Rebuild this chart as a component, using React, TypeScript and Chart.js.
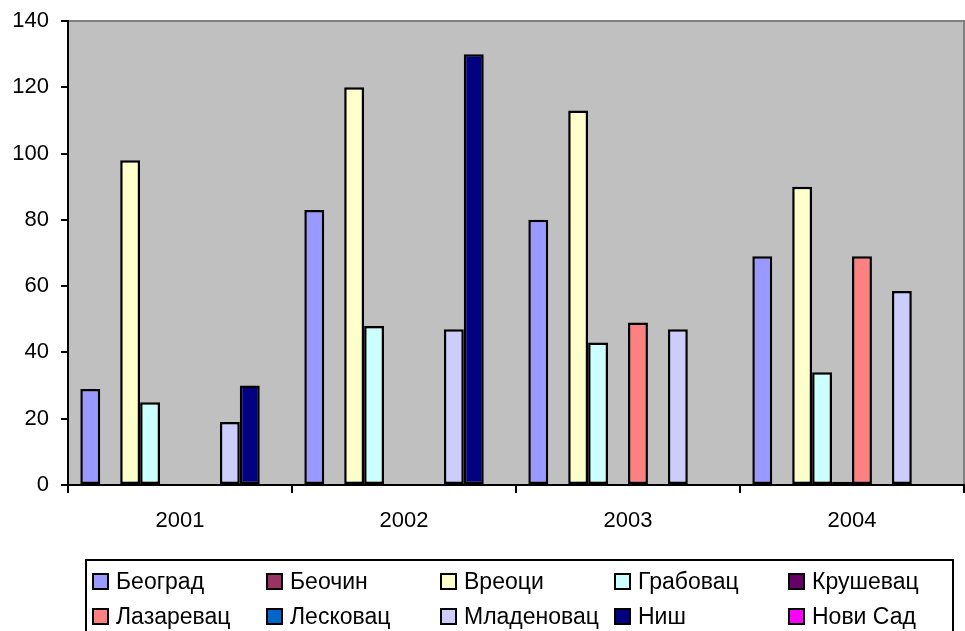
import React, { useEffect, useRef } from "react";
import { Chart, registerables } from "chart.js";

Chart.register(...registerables);

const categories = ["2001", "2002", "2003", "2004"];
const seriesNames = [
  "Београд",
  "Беочин",
  "Вреоци",
  "Грабовац",
  "Крушевац",
  "Лазаревац",
  "Лесковац",
  "Младеновац",
  "Ниш",
  "Нови Сад",
];
const seriesColors = [
  "#9999FF",
  "#993366",
  "#FFFFCC",
  "#CCFFFF",
  "#660066",
  "#FF8080",
  "#0066CC",
  "#CCCCFF",
  "#000080",
  "#FF00FF",
];
const beograd = [29, 83, 80, 69];
const beochin = [null, null, null, null];
const vreoci = [98, 120, 113, 90];
const grabovac = [25, 48, 43, 34];
const krusevac = [null, null, null, 1];
const lazarevac = [null, null, 49, 69];
const leskovac = [null, null, null, null];
const mladenovac = [19, 47, 47, 58.5];
const nis = [30, 130, null, null];
const noviSad = [null, null, null, null];
const seriesValues = [
  beograd,
  beochin,
  vreoci,
  grabovac,
  krusevac,
  lazarevac,
  leskovac,
  mladenovac,
  nis,
  noviSad,
];
const yTicks = { min: 0, max: 140, step: 20 };

const FONT = "'Liberation Sans', Arial, sans-serif";

const plotBg = {
  id: "plotBg",
  beforeDraw(chart: any) {
    const { ctx, chartArea } = chart;
    if (!chartArea) return;
    ctx.save();
    ctx.fillStyle = "#C0C0C0";
    ctx.fillRect(chartArea.left, chartArea.top, chartArea.right - chartArea.left, chartArea.bottom - chartArea.top);
    ctx.strokeStyle = "#808080";
    ctx.lineWidth = 2;
    ctx.beginPath();
    ctx.moveTo(chartArea.left, chartArea.top);
    ctx.lineTo(chartArea.right, chartArea.top);
    ctx.lineTo(chartArea.right, chartArea.bottom);
    ctx.stroke();
    ctx.restore();
  },
};

export default function App() {
  const canvasRef = useRef<HTMLCanvasElement | null>(null);

  useEffect(() => {
    if (!canvasRef.current) return;
    const chart = new Chart(canvasRef.current, {
      type: "bar",
      data: {
        labels: categories,
        datasets: seriesNames.map((name, i) => ({
          label: name,
          data: seriesValues[i] as any,
          backgroundColor: seriesColors[i],
          borderColor: "#000000",
          borderWidth: 2.5,
          borderSkipped: false,
          categoryPercentage: 0.89,
          barPercentage: 1,
        })),
      },
      options: {
        responsive: false,
        maintainAspectRatio: false,
        animation: false,
        layout: { padding: { top: 21, right: 1, left: 0, bottom: 0 } },
        plugins: {
          legend: { display: false },
          tooltip: { enabled: false },
          title: { display: false },
        },
        scales: {
          x: {
            type: "category",
            offset: true,
            grid: {
              display: true,
              offset: true,
              drawOnChartArea: false,
              drawTicks: true,
              tickLength: 8,
              color: "#000000",
              lineWidth: 2,
            },
            border: { display: true, color: "#000000", width: 2 },
            ticks: {
              color: "#000000",
              font: { family: FONT, size: 22 },
              padding: 15,
              maxRotation: 0,
            },
            afterFit(scale: any) {
              scale.height = 146;
              scale.paddingLeft = 0;
              scale.paddingRight = 0;
            },
          },
          y: {
            min: yTicks.min,
            max: yTicks.max,
            grid: {
              display: true,
              drawOnChartArea: false,
              drawTicks: true,
              tickLength: 7,
              color: "#000000",
              lineWidth: 2,
            },
            border: { display: true, color: "#000000", width: 2 },
            ticks: {
              stepSize: yTicks.step,
              color: "#000000",
              font: { family: FONT, size: 22 },
              padding: 12,
            },
            afterFit(scale: any) {
              scale.width = 68;
              scale.paddingTop = 0;
              scale.paddingBottom = 0;
            },
          },
        },
      },
      plugins: [plotBg],
    });
    return () => chart.destroy();
  }, []);

  const colX = (i: number) => 92 + 174 * (i % 5);
  const rowY = (i: number) => (i < 5 ? 581 : 616);

  return (
    <div
      style={{
        position: "fixed",
        left: 0,
        top: 0,
        width: 965,
        height: 631,
        overflow: "hidden",
        background: "#ffffff",
      }}
    >
      <canvas ref={canvasRef} width={965} height={631} style={{ display: "block" }} />
      <div
        style={{
          position: "absolute",
          left: 85,
          top: 559,
          width: 869,
          height: 100,
          border: "2px solid #000",
          boxSizing: "border-box",
        }}
      />
      {seriesNames.map((name, i) => (
        <div
          key={name}
          style={{
            position: "absolute",
            left: colX(i),
            top: rowY(i) - 15,
            height: 30,
            display: "flex",
            alignItems: "center",
            whiteSpace: "nowrap",
            fontFamily: FONT,
            fontSize: 23,
            color: "#000",
          }}
        >
          <span
            style={{
              display: "inline-block",
              width: 17,
              height: 17,
              boxSizing: "border-box",
              border: "2px solid #000",
              background: seriesColors[i],
              marginRight: 7,
            }}
          />
          <span>{name}</span>
        </div>
      ))}
    </div>
  );
}
